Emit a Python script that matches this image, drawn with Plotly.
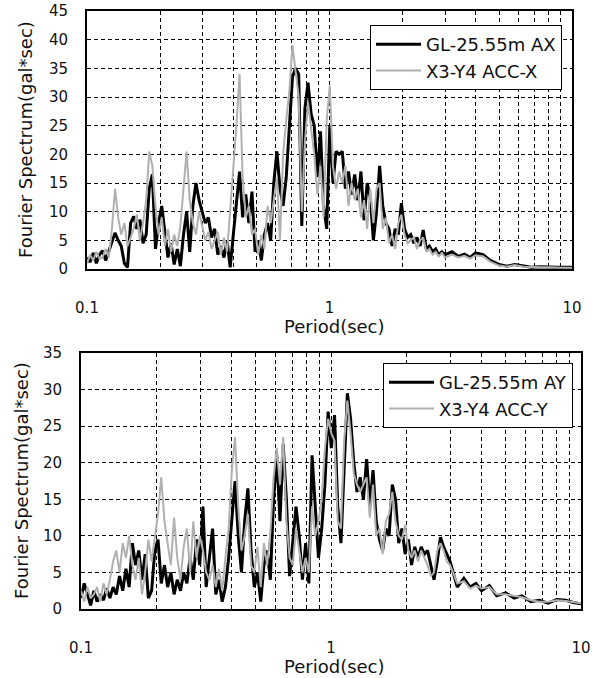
import plotly.graph_objects as go

# Period grid (sec), shared by all four series
periods = [0.1000,0.1030,0.1061,0.1093,0.1126,0.1159,0.1194,0.1230,0.1267,0.1305,
0.1344,0.1384,0.1426,0.1469,0.1513,0.1558,0.1605,0.1653,0.1702,0.1754,
0.1806,0.1860,0.1916,0.1974,0.2033,0.2094,0.2157,0.2221,0.2288,0.2357,
0.2427,0.2500,0.2575,0.2652,0.2732,0.2814,0.2898,0.2985,0.3075,0.3167,
0.3262,0.3360,0.3461,0.3564,0.3671,0.3782,0.3895,0.4012,0.4132,0.4256,
0.4384,0.4515,0.4651,0.4790,0.4934,0.5082,0.5235,0.5392,0.5553,0.5720,
0.5892,0.6068,0.6250,0.6438,0.6631,0.6830,0.7035,0.7246,0.7463,0.7687,
0.7918,0.8155,0.8400,0.8652,0.8912,0.9179,0.9454,0.9738,1.0030,1.0331,
1.0641,1.0960,1.1289,1.1628,1.1976,1.2336,1.2706,1.3087,1.3480,1.3884,
1.4300,1.4729,1.5171,1.5626,1.6095,1.6578,1.7075,1.7588,1.8115,1.8659,
1.9218,1.9795,2.039,2.100,2.163,2.228,2.295,2.364,2.434,2.508,
2.583,2.660,2.740,2.822,2.907,2.994,
3.2,3.4,3.6,3.8,4.0,4.3,4.6,5.0,5.4,5.8,6.3,6.8,7.4,8.0,8.7,9.3,10.0]

# Top panel: X direction
gl_ax = [2.0,1.2,2.8,1.0,2.5,3.2,1.5,3.0,4.5,6.3,
5.0,4.0,1.0,0.3,8.0,9.2,7.0,8.6,4.5,6.0,
14.0,16.5,3.5,8.0,11.0,6.5,2.0,4.5,0.8,3.5,
0.5,6.0,10.0,3.0,11.0,15.0,12.0,10.0,8.0,9.0,
5.5,7.0,2.5,4.0,2.0,5.0,0.3,6.0,12.0,17.0,
9.0,13.0,8.0,13.5,3.0,5.0,1.5,6.0,8.0,5.0,
15.0,20.5,14.0,11.0,16.0,24.0,33.5,35.0,34.0,7.5,
28.0,32.5,27.0,25.0,16.0,24.0,11.0,7.0,25.0,15.0,
20.5,20.0,20.5,14.0,17.0,13.0,16.5,12.0,17.0,8.5,
15.0,12.5,5.0,10.0,18.0,11.0,8.0,7.0,4.0,7.0,
6.0,11.5,7.0,5.5,6.0,4.5,5.5,4.0,6.8,3.5,
4.0,3.0,3.5,2.5,3.0,2.5,
3.0,2.2,2.6,2.0,2.8,2.5,1.5,0.8,0.5,0.8,0.5,0.3,0.4,0.3,0.3,0.3,0.3]

acc_x = [1.0,2.5,1.5,3.0,1.8,2.0,3.5,2.0,7.0,14.0,
9.0,6.0,8.0,4.0,5.5,7.0,9.5,5.0,8.0,12.0,
20.5,18.0,11.0,6.0,9.0,4.0,7.0,3.0,6.0,4.0,
7.5,14.0,20.5,12.0,8.0,6.0,10.0,7.5,5.0,6.5,
3.5,5.0,6.5,2.5,5.5,3.0,10.0,18.0,25.0,34.0,
16.0,9.0,11.0,6.0,7.0,2.5,6.0,3.5,11.0,8.0,
12.0,16.0,5.0,20.0,26.0,31.0,39.0,34.0,30.0,10.0,
22.0,29.0,24.0,20.0,13.0,18.0,9.0,26.0,32.0,18.0,
14.0,17.0,15.0,18.0,11.0,15.0,12.0,14.0,9.0,12.0,
7.0,14.0,8.0,14.0,15.0,7.0,9.0,4.5,6.0,3.5,
8.0,9.5,6.0,4.5,5.0,5.5,3.5,5.0,5.5,3.0,
3.5,2.5,3.0,2.2,2.8,2.0,
2.5,2.0,2.3,1.8,2.4,2.2,1.3,0.6,0.4,0.7,0.4,0.3,0.3,0.3,0.2,0.2,0.2]

# Bottom panel: Y direction
gl_ay = [1.5,3.5,2.0,0.5,2.5,1.0,2.0,1.2,2.8,1.5,
3.0,2.0,4.5,2.5,5.5,3.0,9.0,6.0,8.0,4.0,
7.5,1.5,2.5,8.0,9.5,3.5,6.0,3.0,5.0,2.0,
4.0,2.5,5.0,3.5,7.0,4.0,9.5,6.0,14.0,3.0,
7.0,11.0,2.0,4.0,1.0,3.0,7.0,12.0,17.5,10.0,
5.0,12.0,16.5,8.0,3.0,5.0,1.0,6.0,8.0,4.0,
15.0,21.0,12.0,22.5,15.0,4.5,9.0,14.0,10.0,4.0,
9.0,3.5,21.0,14.0,7.0,11.0,17.0,27.0,22.0,26.5,
14.0,9.0,20.0,29.5,26.0,20.0,16.0,18.0,15.0,20.5,
14.0,19.0,12.0,9.5,8.0,11.0,10.0,17.0,15.0,9.0,
11.0,7.5,9.5,6.0,8.5,7.0,8.5,7.5,8.0,6.0,
4.0,6.5,9.8,8.5,7.5,6.5,
3.0,4.2,3.0,3.5,2.5,3.2,1.8,2.2,1.5,1.8,1.0,1.2,0.8,1.3,1.2,0.9,0.7]

acc_y = [2.5,1.0,3.0,1.5,2.0,3.0,1.0,3.5,2.0,4.0,
6.5,8.0,5.0,9.0,7.0,10.0,6.0,4.0,7.0,2.0,
5.0,9.5,6.5,10.0,13.0,18.0,12.0,9.0,6.0,12.5,
7.0,4.0,8.5,11.0,5.0,12.0,7.0,10.0,8.0,5.0,
4.0,6.0,3.0,5.5,2.5,7.0,11.0,19.0,23.5,14.0,
8.0,10.0,13.0,6.0,5.0,8.5,3.0,9.0,6.0,10.5,
18.0,22.0,17.0,23.5,12.0,7.0,6.0,11.0,8.0,5.0,
7.0,5.0,14.0,10.0,12.0,15.0,22.0,26.0,24.0,23.0,
12.0,11.0,23.0,28.5,24.0,18.5,17.0,16.0,17.0,18.0,
12.5,17.0,10.0,11.0,7.5,12.0,13.0,16.0,12.0,10.0,
9.5,11.5,8.0,7.0,8.0,6.5,8.0,7.0,6.0,4.5,
5.0,8.0,9.0,8.0,6.5,6.0,
3.5,3.8,2.8,3.2,2.8,3.0,2.0,2.0,1.8,1.6,1.2,1.0,1.0,1.2,1.1,1.0,0.8]

names_top = ["GL-25.55m AX", "X3-Y4 ACC-X"]
names_bot = ["GL-25.55m AY", "X3-Y4 ACC-Y"]
x_tickvals = [0.1, 1, 10]
x_ticktext = ["0.1", "1", "10"]
x_minor = [0.2,0.3,0.4,0.5,0.6,0.7,0.8,0.9,2,3,4,5,6,7,8,9]

FONT = "DejaVu Sans"
BLACK = "#000000"
GRAY = "#b0b0b0"
DASH = "4px,3px"

W, H = 593, 678
def px(v): return v / W
def py(v): return 1 - v / H

fig = go.Figure()
fig.add_trace(go.Scatter(x=periods, y=gl_ax, name=names_top[0], mode="lines",
                         line=dict(color=BLACK, width=3), xaxis="x", yaxis="y", legend="legend"))
fig.add_trace(go.Scatter(x=periods, y=acc_x, name=names_top[1], mode="lines",
                         line=dict(color=GRAY, width=2), xaxis="x", yaxis="y", legend="legend"))
fig.add_trace(go.Scatter(x=periods, y=gl_ay, name=names_bot[0], mode="lines",
                         line=dict(color=BLACK, width=3), xaxis="x2", yaxis="y2", legend="legend2"))
fig.add_trace(go.Scatter(x=periods, y=acc_y, name=names_bot[1], mode="lines",
                         line=dict(color=GRAY, width=2), xaxis="x2", yaxis="y2", legend="legend2"))

def xax(domain, anchor):
    return dict(type="log", range=[-1, 1], domain=domain, anchor=anchor, automargin=False,
                tickmode="array", tickvals=x_tickvals, ticktext=x_ticktext,
                showgrid=True, gridcolor=BLACK, gridwidth=1, griddash=DASH,
                minor=dict(tickvals=x_minor, showgrid=True, gridcolor=BLACK, gridwidth=1,
                           griddash=DASH, ticks=""),
                showline=True, mirror=True, linecolor=BLACK, linewidth=2,
                ticks="", ticklabelstandoff=24, zeroline=False,
                tickfont=dict(family=FONT, size=15, color="#111"))

def yax(domain, anchor, top):
    return dict(range=[0, top], domain=domain, anchor=anchor, automargin=False,
                tick0=0, dtick=5,
                showgrid=True, gridcolor=BLACK, gridwidth=1, griddash=DASH,
                showline=True, mirror=True, linecolor=BLACK, linewidth=2,
                ticks="", ticklabelstandoff=14, zeroline=False,
                tickfont=dict(family=FONT, size=15, color="#111"))

legend_common = dict(bordercolor=BLACK, borderwidth=1, bgcolor="white",
                     font=dict(family=FONT, size=18, color="#111"),
                     xanchor="right", yanchor="top", tracegroupgap=0, itemwidth=45)

fig.update_layout(
    width=W, height=H, autosize=False,
    margin=dict(l=0, r=0, t=0, b=0, pad=0, autoexpand=False),
    paper_bgcolor="white", plot_bgcolor="white",
    showlegend=True,
    xaxis=xax([px(87), px(572)], "y"),
    yaxis=yax([py(269), py(11)], "x", 45),
    xaxis2=xax([px(81), px(581)], "y2"),
    yaxis2=yax([py(609), py(353)], "x2", 35),
    legend=dict(x=px(562), y=py(25), **legend_common),
    legend2=dict(x=px(573), y=py(363), **legend_common),
    annotations=[
        dict(text="Period(sec)", x=px(334), y=py(326), xref="paper", yref="paper",
             showarrow=False, xanchor="center", yanchor="middle",
             font=dict(family=FONT, size=18, color="#111")),
        dict(text="Period(sec)", x=px(334), y=py(666), xref="paper", yref="paper",
             showarrow=False, xanchor="center", yanchor="middle",
             font=dict(family=FONT, size=18, color="#111")),
        dict(text="Fourier Spectrum(gal*sec)", x=px(25), y=py(140), xref="paper", yref="paper",
             showarrow=False, xanchor="center", yanchor="middle", textangle=-90,
             font=dict(family=FONT, size=18, color="#111")),
        dict(text="Fourier Spectrum(gal*sec)", x=px(22), y=py(481), xref="paper", yref="paper",
             showarrow=False, xanchor="center", yanchor="middle", textangle=-90,
             font=dict(family=FONT, size=18, color="#111")),
    ],
)

fig.write_html("out.html", config={"displayModeBar": False},
               post_script="document.body.style.margin='0';")
